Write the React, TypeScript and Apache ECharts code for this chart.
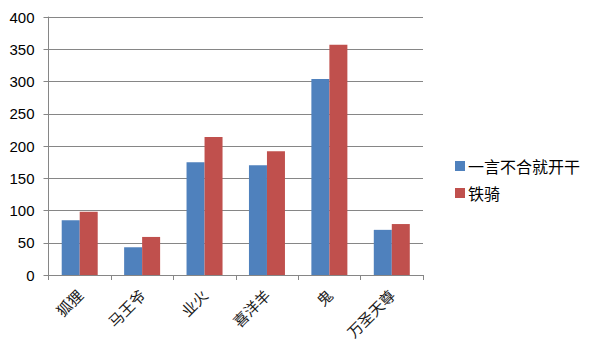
import React, { useEffect, useRef } from "react";
import * as echarts from "echarts";

const categories = ["狐狸", "马王爷", "业火", "喜洋羊", "鬼", "万圣天尊"];
const seriesNames = ["一言不合就开干", "铁骑"];
const seriesA = [85, 43, 175, 170, 304, 70];
const seriesB = [98, 59, 214, 192, 357, 79];

export default function App() {
  const ref = useRef<HTMLDivElement>(null);
  useEffect(() => {
    const chart = echarts.init(ref.current!, null, { renderer: "svg" });
    chart.setOption({
      animation: false,
      backgroundColor: "#ffffff",
      grid: { left: 48.5, right: 174, top: 17, bottom: 84, containLabel: false },
      legend: {
        orient: "vertical",
        left: 450,
        top: 153,
        itemWidth: 10,
        itemHeight: 10,
        itemGap: 11,
        icon: "rect",
        textStyle: {
          fontFamily: "Noto Sans CJK SC",
          fontSize: 16,
          lineHeight: 16,
          color: "#000",
          padding: [0, 0, 0, -2],
        },
        data: seriesNames,
      },
      xAxis: {
        type: "category",
        data: categories,
        axisLine: { show: true, lineStyle: { color: "#868686", width: 1 } },
        axisTick: { show: true, length: 5, lineStyle: { color: "#868686" } },
        axisLabel: {
          interval: 0,
          rotate: 45,
          margin: 17,
          fontFamily: "Noto Sans CJK SC",
          fontSize: 15,
          color: "#1a1a1a",
        },
      },
      yAxis: {
        type: "value",
        min: 0,
        max: 400,
        interval: 50,
        axisLine: { show: true, lineStyle: { color: "#868686", width: 1 } },
        axisTick: { show: true, length: 5, lineStyle: { color: "#868686" } },
        splitLine: { show: true, lineStyle: { color: "#868686", width: 1 } },
        axisLabel: {
          margin: 14,
          fontFamily: "Liberation Sans",
          fontSize: 15,
          color: "#000",
        },
      },
      series: [
        {
          name: seriesNames[0],
          type: "bar",
          data: seriesA,
          barWidth: 18,
          barGap: "0%",
          itemStyle: { color: "#4F81BD" },
        },
        {
          name: seriesNames[1],
          type: "bar",
          data: seriesB,
          barWidth: 18,
          barGap: "0%",
          itemStyle: { color: "#C0504D" },
        },
      ],
    });
    return () => chart.dispose();
  }, []);
  return (
    <div
      ref={ref}
      style={{ position: "fixed", left: 0, top: 0, width: 597, height: 359 }}
    />
  );
}
